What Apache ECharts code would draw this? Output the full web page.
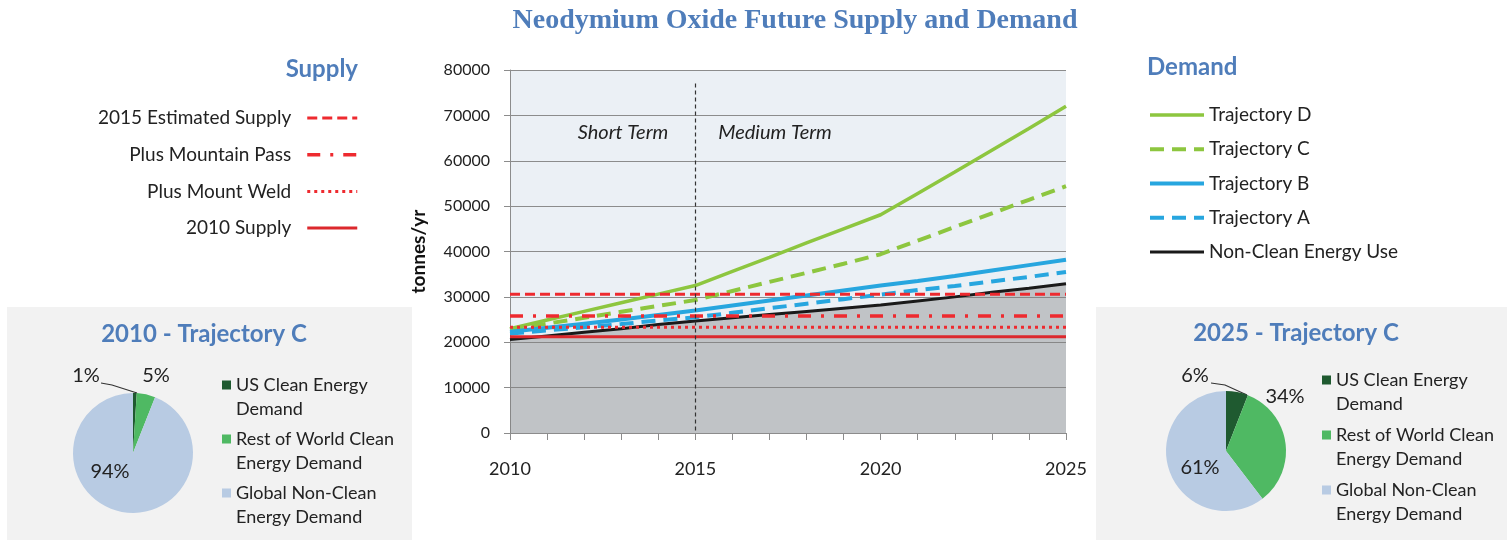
<!DOCTYPE html>
<html>
<head>
<meta charset="utf-8">
<script src="https://cdn.jsdelivr.net/npm/echarts@6/dist/echarts.min.js"></script>
<style>
  html, body { margin: 0; padding: 0; background: #fff; }
  #chart { width: 1512px; height: 540px; }
</style>
</head>
<body>
<div id="chart"></div>
<script>
// years on the x axis
const years = ['2010', '2011', '2012', '2013', '2014', '2015', '2016', '2017',
  '2018', '2019', '2020', '2021', '2022', '2023', '2024', '2025'];

// demand trajectories, tonnes/yr
const trajectoryD = [23000, 24900, 26800, 28700, 30600, 32500, 35600, 38700, 41900, 45000, 48100, 52800, 57500, 62300, 67100, 72000];
const trajectoryC = [22800, 24100, 25400, 26700, 28000, 29300, 31300, 33300, 35300, 37300, 39400, 42400, 45400, 48400, 51400, 54400];
const trajectoryB = [22300, 23200, 24100, 25000, 26000, 27000, 28100, 29200, 30300, 31400, 32500, 33500, 34600, 35800, 37000, 38200];
const trajectoryA = [21900, 22600, 23300, 24000, 24800, 25500, 26500, 27500, 28500, 29500, 30500, 31500, 32400, 33400, 34400, 35500];
const nonClean = [20600, 21400, 22200, 23000, 23900, 24700, 25400, 26100, 26800, 27500, 28200, 29100, 30000, 31000, 31900, 32900];

// supply levels (flat from 2010 to 2025)
const supplyYears = ['2010', '2025'];
const supply2015Est = [30600, 30600];
const supplyMountainPass = [25800, 25800];
const supplyMountWeld = [23300, 23300];
const supply2010 = [21200, 21200];

// pie shares, %
const pieNames = ['US Clean Energy Demand', 'Rest of World Clean Energy Demand', 'Global Non-Clean Energy Demand'];
const pie2010 = [1, 5, 94];
const pie2025 = [6, 34, 61];

const FONT = 'Lato';
const BLUE_TITLE = '#4F7DBA';
const RED = '#EE2A2F';
const GREEN = '#8DC63F';
const BLUE = '#27A6DF';
const pieColors = ['#1F5A30', '#4FB963', '#B8CBE3'];

const pieLegendText = {
  'US Clean Energy Demand': '\nUS Clean Energy\nDemand',
  'Rest of World Clean Energy Demand': '\nRest of World Clean\nEnergy Demand',
  'Global Non-Clean Energy Demand': '\nGlobal Non-Clean\nEnergy Demand'
};

// label spots for the pies (pixels)
const pieLabelSpots2010 = [[86, 376], [156, 376], [110, 472]];
const pieLabelSpots2025 = [[1195, 376], [1285, 397], [1200, 468]];

const chart = echarts.init(document.getElementById('chart'));

const pair = (xs, vs) => xs.map((x, i) => [x, vs[i]]);

const demandLine = (name, data, color, type, width) => ({
  name: name,
  type: 'line',
  data: data,
  symbol: 'none',
  z: 3,
  lineStyle: { color: color, type: type, width: width },
  itemStyle: { color: color }
});

const supplyLine = (name, data, type, width, color) => ({
  name: name,
  type: 'line',
  data: pair(supplyYears, data),
  symbol: 'none',
  z: 4,
  lineStyle: { color: color || RED, type: type, width: width },
  itemStyle: { color: color || RED }
});

const makePie = (data, center, spots, linePts) => ({
  type: 'pie',
  center: center,
  radius: 60,
  startAngle: 90,
  clockwise: true,
  z: 3,
  data: pieNames.map((n, i) => ({
    name: n,
    value: data[i],
    itemStyle: { color: pieColors[i] },
    labelLine: { show: i === 0 }
  })),
  label: {
    show: true,
    formatter: '{c}%',
    fontFamily: FONT,
    fontSize: 20,
    color: '#222'
  },
  labelLine: { show: true, length: 10, length2: 10, lineStyle: { color: '#333', width: 1.2 } },
  labelLayout: function (p) {
    const s = spots[p.dataIndex];
    const out = { x: s[0], y: s[1], align: 'center', verticalAlign: 'middle' };
    if (p.dataIndex === 0) out.labelLinePoints = linePts;
    return out;
  },
  emphasis: { disabled: true }
});

const option = {
  animation: false,
  backgroundColor: '#fff',
  textStyle: { fontFamily: FONT },
  graphic: [
    { type: 'rect', z: -10, shape: { x: 7, y: 307, width: 405, height: 233 }, style: { fill: '#F2F2F2' } },
    { type: 'rect', z: -10, shape: { x: 1096, y: 307, width: 411, height: 233 }, style: { fill: '#F2F2F2' } },
    { type: 'text', z: 10, x: 623, y: 133, style: { text: 'Short Term', fontFamily: FONT, fontSize: 20, fontStyle: 'italic', fill: '#222', align: 'center', verticalAlign: 'middle' } },
    { type: 'text', z: 10, x: 775, y: 133, style: { text: 'Medium Term', fontFamily: FONT, fontSize: 20, fontStyle: 'italic', fill: '#222', align: 'center', verticalAlign: 'middle' } }
  ],
  title: [
    { text: 'Neodymium Oxide Future Supply and Demand', left: 795, top: 7, textAlign: 'center', padding: 0,
      textStyle: { fontFamily: 'Liberation Serif', fontWeight: 'bold', fontSize: 28, color: BLUE_TITLE } },
    { text: 'Supply', right: 1154, top: 57, padding: 0,
      textStyle: { fontFamily: FONT, fontWeight: 'bold', fontSize: 24, color: BLUE_TITLE } },
    { text: 'Demand', left: 1147, top: 55, padding: 0,
      textStyle: { fontFamily: FONT, fontWeight: 'bold', fontSize: 24, color: BLUE_TITLE } },
    { text: '2010 - Trajectory C', left: 204, top: 322, textAlign: 'center', padding: 0,
      textStyle: { fontFamily: FONT, fontWeight: 'bold', fontSize: 24, color: BLUE_TITLE } },
    { text: '2025 - Trajectory C', left: 1296, top: 321, textAlign: 'center', padding: 0,
      textStyle: { fontFamily: FONT, fontWeight: 'bold', fontSize: 24, color: BLUE_TITLE } }
  ],
  legend: [
    {
      data: ['2015 Estimated Supply', 'Plus Mountain Pass', 'Plus Mount Weld', '2010 Supply'],
      orient: 'vertical', align: 'right', right: 1153, top: 107, padding: 0,
      itemWidth: 50, itemHeight: 14, itemGap: 14.7, selectedMode: false,
      lineStyle: { width: 'inherit' },
      itemStyle: { opacity: 0 },
      textStyle: { fontFamily: FONT, fontSize: 19, color: '#222', lineHeight: 22, padding: [0, 11, 0, 0] }
    },
    {
      data: ['Trajectory D', 'Trajectory C', 'Trajectory B', 'Trajectory A', 'Non-Clean Energy Use'],
      orient: 'vertical', left: 1148, top: 104, padding: 0,
      itemWidth: 54, itemHeight: 14, itemGap: 12.25, selectedMode: false,
      lineStyle: { width: 'inherit' },
      itemStyle: { opacity: 0 },
      textStyle: { fontFamily: FONT, fontSize: 19, color: '#222', lineHeight: 22 }
    },
    {
      data: pieNames, orient: 'vertical', left: 222, top: 349, padding: 0,
      icon: 'rect', itemWidth: 9, itemHeight: 9, itemGap: -18, selectedMode: false,
      formatter: n => pieLegendText[n],
      textStyle: { fontFamily: FONT, fontSize: 18, color: '#222', lineHeight: 24 }
    },
    {
      data: pieNames, orient: 'vertical', left: 1322, top: 344, padding: 0,
      icon: 'rect', itemWidth: 9, itemHeight: 9, itemGap: -17, selectedMode: false,
      formatter: n => pieLegendText[n],
      textStyle: { fontFamily: FONT, fontSize: 18, color: '#222', lineHeight: 24 }
    }
  ],
  grid: {
    left: 510, right: 446, top: 70, bottom: 107,
    show: true, backgroundColor: '#EBF0F5', borderWidth: 0
  },
  xAxis: {
    type: 'category',
    data: years,
    boundaryGap: false,
    axisLine: { lineStyle: { color: '#8C8C8C', width: 1 } },
    axisTick: { show: true, interval: 0, length: 7, lineStyle: { color: '#8C8C8C' } },
    axisLabel: { interval: 4, fontFamily: FONT, fontSize: 18, color: '#222', margin: 27 },
    splitLine: { show: false }
  },
  yAxis: {
    type: 'value',
    min: 0, max: 80000, interval: 10000,
    name: 'tonnes/yr',
    nameLocation: 'middle',
    nameRotate: 90,
    nameGap: 82,
    nameTextStyle: { fontFamily: FONT, fontSize: 19, fontWeight: 'bold', color: '#111' },
    axisLine: { show: true, lineStyle: { color: '#8C8C8C' } },
    axisTick: { show: true, length: 6, lineStyle: { color: '#8C8C8C' } },
    axisLabel: { fontFamily: FONT, fontSize: 16, color: '#222', margin: 20, formatter: v => String(v) },
    splitLine: { show: true, lineStyle: { color: '#8C8C8C', width: 1 } }
  },
  series: [
    {
      name: 'Non-Clean Energy Use',
      type: 'line',
      data: nonClean,
      symbol: 'none',
      z: 2,
      lineStyle: { color: '#1A1A1A', width: 3 },
      itemStyle: { color: '#1A1A1A' },
      areaStyle: { color: 'rgba(128,128,128,0.4)', opacity: 1 },
      markLine: {
        silent: true,
        symbol: 'none',
        label: { show: false },
        lineStyle: { color: '#333', type: [4, 3], width: 1.2 },
        data: [[{ coord: ['2015', 77000] }, { coord: ['2015', 0] }]]
      }
    },
    demandLine('Trajectory D', trajectoryD, GREEN, 'solid', 3.5),
    demandLine('Trajectory C', trajectoryC, GREEN, [14, 8], 4),
    demandLine('Trajectory B', trajectoryB, BLUE, 'solid', 4),
    demandLine('Trajectory A', trajectoryA, BLUE, [14, 8], 4),
    supplyLine('2015 Estimated Supply', supply2015Est, [10, 5], 3),
    supplyLine('Plus Mountain Pass', supplyMountainPass, [13, 10, 3, 10], 3.5),
    supplyLine('Plus Mount Weld', supplyMountWeld, [3, 4], 3),
    supplyLine('2010 Supply', supply2010, 'solid', 3, '#DC282D'),
    makePie(pie2010, [133, 453], pieLabelSpots2010, [[137, 393], [112, 385], [101, 383]]),
    makePie(pie2025, [1226, 451], pieLabelSpots2025, [[1247, 395], [1225, 385], [1211, 383]])
  ]
};

chart.setOption(option);
</script>
</body>
</html>
